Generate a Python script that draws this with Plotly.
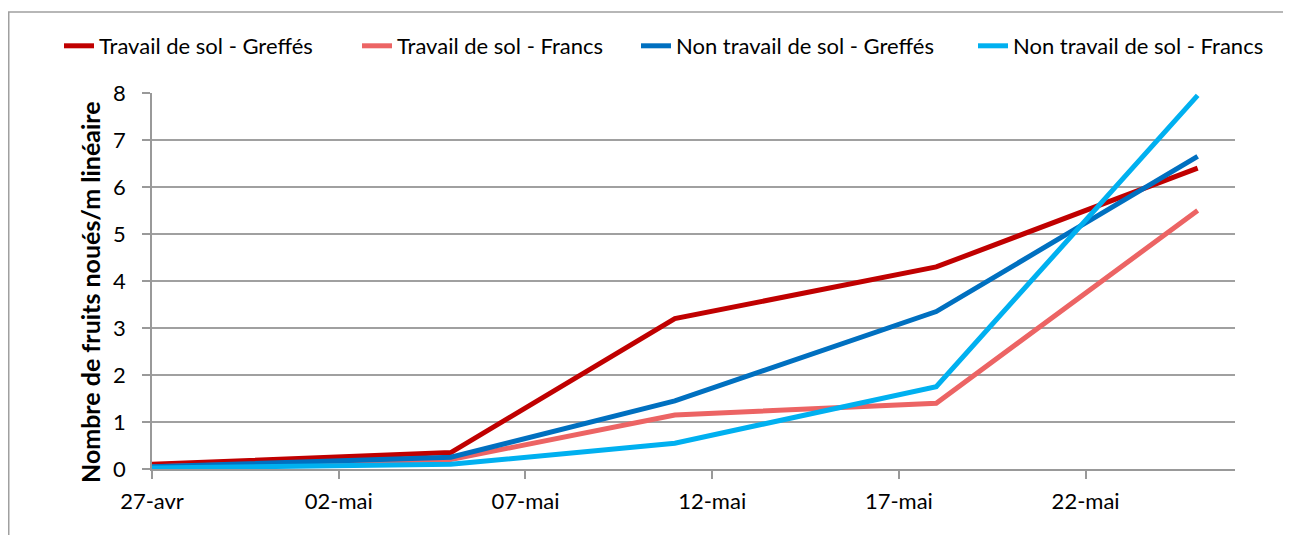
import plotly.graph_objects as go

dates = ["2021-04-27", "2021-05-05", "2021-05-11", "2021-05-18", "2021-05-25"]
series_names = [
    "Travail de sol - Greffés",
    "Travail de sol - Francs",
    "Non travail de sol - Greffés",
    "Non travail de sol - Francs",
]
travail_greffes = [0.1, 0.35, 3.2, 4.3, 6.4]
travail_francs = [0.05, 0.2, 1.15, 1.4, 5.5]
non_travail_greffes = [0.05, 0.25, 1.45, 3.35, 6.65]
non_travail_francs = [0.02, 0.1, 0.55, 1.75, 7.95]

x_tick_vals = ["2021-04-27", "2021-05-02", "2021-05-07", "2021-05-12", "2021-05-17", "2021-05-22"]
x_tick_text = ["27-avr", "02-mai", "07-mai", "12-mai", "17-mai", "22-mai"]
y_tick_vals = [0, 1, 2, 3, 4, 5, 6, 7, 8]
y_title = "Nombre de fruits noués/m linéaire"

colors = ["#C00000", "#EC6464", "#0070C0", "#00B0F0"]
values = [travail_greffes, travail_francs, non_travail_greffes, non_travail_francs]
legend_ids = ["legend", "legend2", "legend3", "legend4"]

FONT = "Lato, 'Open Sans', sans-serif"

fig = go.Figure()
for name, vals, col, lid in zip(series_names, values, colors, legend_ids):
    fig.add_trace(go.Scatter(
        x=dates, y=vals, mode="lines", name=name,
        line=dict(color=col, width=5),
        legend=lid,
    ))

OFF = 8  # page body margin
W, H = 1291 - OFF, 535 - OFF
L = 152 - OFF
T = 93 - OFF
R = W - (1235 - OFF)
B = H - (469 - OFF)
pw = W - L - R
ph = H - T - B

def px2x(px):
    return (px - OFF - L) / pw

def py2y(py):
    return (H - B - (py - OFF)) / ph

legend_text_px = [99, 397, 676, 1013]
leg_common = dict(orientation="h", yanchor="middle", xanchor="left",
                  font=dict(family=FONT, size=22, color="#000000"),
                  bgcolor="rgba(0,0,0,0)", itemwidth=30)
layout_legends = {}
for lid, tx in zip(legend_ids, legend_text_px):
    layout_legends[lid] = dict(leg_common, x=px2x(tx - 40), y=py2y(46))

fig.update_layout(
    width=W, height=H,
    margin=dict(l=L, r=R, t=T, b=B),
    paper_bgcolor="white", plot_bgcolor="white",
    font=dict(family=FONT, size=22, color="#000000"),
    showlegend=True,
    **layout_legends,
    xaxis=dict(
        type="date",
        range=["2021-04-27", "2021-05-26"],
        tickvals=x_tick_vals, ticktext=x_tick_text,
        showgrid=False, zeroline=False,
        showline=True, linecolor="#999999", linewidth=1.5,
        ticks="outside", ticklen=8, tickcolor="#999999", tickwidth=1.5,
        tickfont=dict(family=FONT, size=22),
        ticklabelstandoff=4,
    ),
    yaxis=dict(
        range=[0, 8],
        tickvals=y_tick_vals,
        showgrid=True, gridcolor="#A0A0A0", gridwidth=1.5,
        zeroline=False,
        showline=True, linecolor="#999999", linewidth=1.5,
        ticks="outside", ticklen=8, tickcolor="#999999", tickwidth=1.5,
        tickfont=dict(family=FONT, size=22),
        ticklabelstandoff=12,
    ),
    annotations=[dict(
        text="<b>" + y_title + "</b>", textangle=-90,
        xref="paper", yref="paper", x=px2x(90), y=py2y(292),
        xanchor="center", yanchor="middle", showarrow=False,
        font=dict(family=FONT, size=25, color="#000000"),
    )],
    shapes=[dict(
        type="rect", xref="paper", yref="paper",
        x0=px2x(OFF + 0.75), x1=px2x(1310), y0=py2y(560), y1=py2y(12),
        line=dict(color="#A0A0A0", width=1.5), fillcolor="rgba(0,0,0,0)",
        layer="below",
    )],
)

fig.write_html("out.html")
